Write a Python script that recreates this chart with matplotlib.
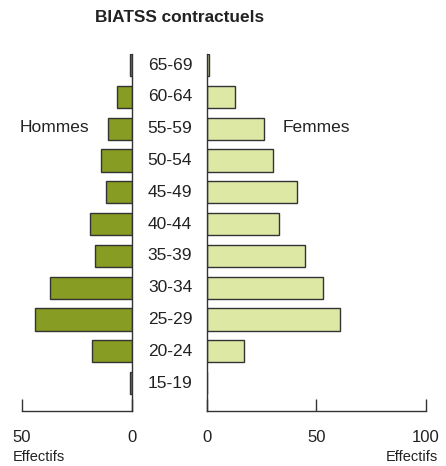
import matplotlib.pyplot as plt

plt.rcParams['font.family'] = ['Liberation Sans', 'DejaVu Sans']

# Data: age groups from youngest to oldest
ages = ['15-19', '20-24', '25-29', '30-34', '35-39', '40-44',
        '45-49', '50-54', '55-59', '60-64', '65-69']
hommes = [1, 18, 44, 37.5, 17, 19, 12, 14, 11, 7, 1]
femmes = [0, 17, 61, 53, 45, 33, 41, 30, 26, 13, 1]

col_h = '#869c22'
col_f = '#dde8a5'
edge = '#333333'

fig = plt.figure(figsize=(4.46, 4.66), dpi=100)
W, H = 446, 466
bottom = (H - 411) / H
height = 357 / H

ax_l = fig.add_axes([22 / W, bottom, 110 / W, height])
ax_r = fig.add_axes([207 / W, bottom, 218.5 / W, height])

y = list(range(len(ages)))
ax_l.barh(y, hommes, height=0.7, color=col_h, edgecolor=edge, linewidth=1)
ax_r.barh(y, femmes, height=0.7, color=col_f, edgecolor=edge, linewidth=1)

ax_l.set_xlim(50, 0)
ax_r.set_xlim(0, 100)
for ax in (ax_l, ax_r):
    ax.set_ylim(-0.88, 10.35)
    ax.set_yticks([])
    ax.spines['top'].set_visible(False)
    ax.tick_params(axis='x', direction='in', length=9, width=1, color=edge,
                   labelsize=12, pad=14, labelcolor='#222222')
    for s in ax.spines.values():
        s.set_color(edge)
        s.set_linewidth(1)

ax_l.spines['left'].set_visible(False)
ax_r.spines['right'].set_visible(False)
ax_l.set_xticks([50, 0])
ax_r.set_xticks([0, 50, 100])

# age labels in the middle
for yi, lab in zip(y, ages):
    fig.text(170 / W, ax_l.transData.transform((0, yi))[1] / fig.bbox.height,
             lab, ha='center', va='center', fontsize=12.5, color='#222222')

fig.text(180 / W, 1 - 18 / H, 'BIATSS contractuels', ha='center', va='center',
         fontsize=12.4, fontweight='bold', color='#222222')
fig.text(20 / W, 1 - 127 / H, 'Hommes', ha='left', va='center',
         fontsize=12.5, color='#222222')
fig.text(283 / W, 1 - 127 / H, 'Femmes', ha='left', va='center',
         fontsize=12.5, color='#222222')
fig.text(13 / W, 1 - 457 / H, 'Effectifs', ha='left', va='center',
         fontsize=10.5, color='#222222')
fig.text(438 / W, 1 - 457 / H, 'Effectifs', ha='right', va='center',
         fontsize=10.5, color='#222222')

fig.savefig('out.png', dpi=100)
